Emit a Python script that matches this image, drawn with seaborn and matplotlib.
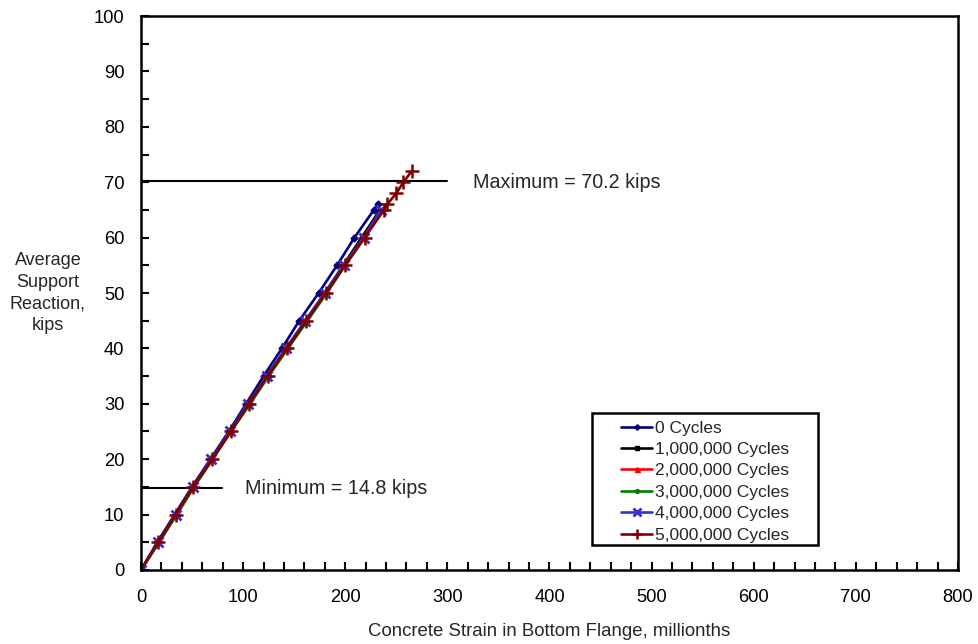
import matplotlib
matplotlib.use("Agg")
import matplotlib.pyplot as plt
import seaborn as sns
import pandas as pd
from matplotlib.patches import Rectangle
from matplotlib.ticker import MultipleLocator

sns.set_theme(style="white")
plt.rcParams['font.family'] = ['Liberation Sans', 'DejaVu Sans']

loads = [0, 5, 10, 15, 20, 25, 30, 35, 40, 45, 50, 55, 60, 65]
loads_0 = loads + [66]
loads_5 = loads + [66, 68, 70, 72]

strain_0 = [0, 16, 33, 50, 68, 86, 103, 120, 138, 155, 174, 192, 209, 228, 232]
strain_1 = [0, 17, 34, 51, 69, 87, 105, 123, 142, 161, 180, 198, 216, 234]
strain_2 = [0, 17, 35, 52, 70, 88, 106, 124, 143, 162, 181, 199, 218, 236]
strain_3 = [0, 18, 35, 52, 70, 88, 107, 125, 144, 163, 182, 200, 219, 237]
strain_4 = [0, 17, 34, 51, 69, 87, 105, 123, 142, 161, 180, 199, 218, 235]
strain_5 = [0, 17, 34, 51, 70, 88, 106, 124, 143, 162, 181, 200, 219, 238, 241, 250, 257, 265]

series_names = ["0 Cycles", "1,000,000 Cycles", "2,000,000 Cycles",
                "3,000,000 Cycles", "4,000,000 Cycles", "5,000,000 Cycles"]

max_load = 70.2
min_load = 14.8

series = [
    (series_names[0], strain_0, loads_0, "#000080", "D", 3.5, 1.0),
    (series_names[1], strain_1, loads, "#000000", "s", 3.0, 1.0),
    (series_names[2], strain_2, loads, "#FF0000", "^", 4.5, 1.0),
    (series_names[3], strain_3, loads, "#008000", "o", 3.5, 1.0),
    (series_names[4], strain_4, loads, "#3333CC", "x", 6.5, 2.0),
    (series_names[5], strain_5, loads_5, "#800000", "+", 9.5, 1.8),
]

fig = plt.figure(figsize=(9.79, 6.44), dpi=100)
ax = fig.add_axes([0.144, 0.115, 0.8345, 0.860])

for name, xs, ys, col, mk, ms, mew in series:
    df = pd.DataFrame({"x": xs, "y": ys})
    sns.lineplot(data=df, x="x", y="y", ax=ax, sort=False, estimator=None,
                 color=col, marker=mk, markersize=ms, markeredgewidth=mew,
                 markeredgecolor=col, linewidth=1.9, label=name, legend=False)

ax.set_xlim(0, 800)
ax.set_ylim(0, 100)
ax.xaxis.set_major_locator(MultipleLocator(100))
ax.xaxis.set_minor_locator(MultipleLocator(20))
ax.yaxis.set_major_locator(MultipleLocator(10))
ax.yaxis.set_minor_locator(MultipleLocator(5))
ax.tick_params(which="both", direction="in", width=1.5, colors="black",
               top=False, right=False, bottom=True, left=True)
ax.tick_params(which="major", length=6, labelsize=13.2)
ax.tick_params(which="minor", length=6)
ax.tick_params(axis="x", which="major", pad=14)
ax.tick_params(axis="y", which="major", pad=12)
for sp in ax.spines.values():
    sp.set_color("black")
    sp.set_linewidth(1.8)
ax.grid(False)

# annotation lines
ax.plot([0, 300], [max_load, max_load], color="black", lw=1.5, zorder=1)
ax.plot([0, 79], [min_load, min_load], color="black", lw=1.5, zorder=1)
ax.text(325, max_load - 0.3, "Maximum = 70.2 kips", fontsize=14.2, va="center", ha="left")
ax.text(102, min_load - 0.1, "Minimum = 14.8 kips", fontsize=14.2, va="center", ha="left")

ax.set_xlabel("Concrete Strain in Bottom Flange, millionths", fontsize=13.4, labelpad=12)
ax.set_ylabel("")
fig.text(0.049, 0.545, "Average\nSupport\nReaction,\nkips", fontsize=13,
         ha="center", va="center", linespacing=1.34)

# legend
ax.add_patch(Rectangle((0.552, 0.045), 0.277, 0.238, transform=ax.transAxes,
                       fill=True, facecolor="white", edgecolor="black", lw=1.8, zorder=5))
h, l = ax.get_legend_handles_labels()
leg = ax.legend(h, l, loc="upper left", bbox_to_anchor=(0.586, 0.273),
                frameon=False, fontsize=12.5, handlelength=1.75, handletextpad=0.2,
                labelspacing=0.36, borderpad=0.1, borderaxespad=0, markerscale=0.8)
leg.set_zorder(6)

fig.savefig("out.png", dpi=100, facecolor="white")
